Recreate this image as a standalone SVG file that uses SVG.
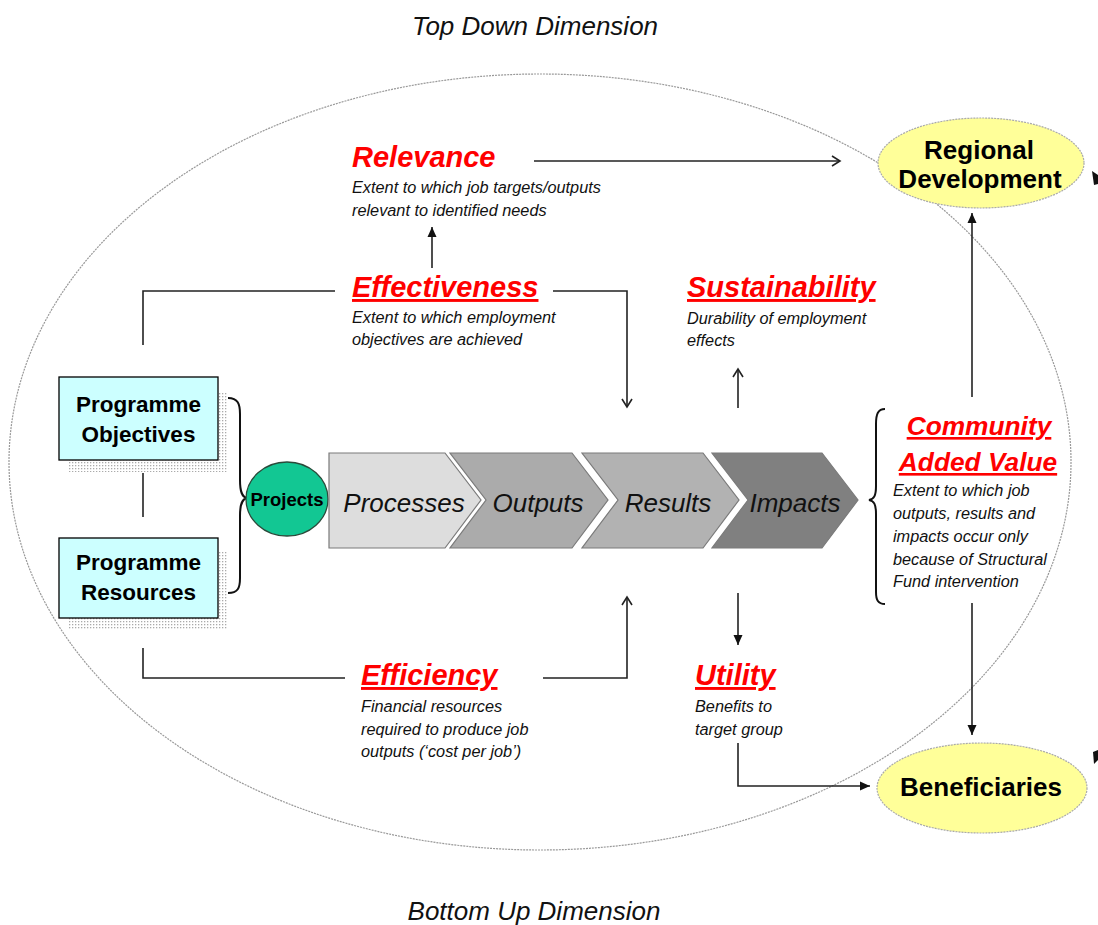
<svg xmlns="http://www.w3.org/2000/svg" width="1098" height="925" viewBox="0 0 1098 925">
<style>
.dim{font-family:"Liberation Sans",Arial,sans-serif;font-style:italic;font-size:26px;fill:#111;text-anchor:middle}
.head{font-family:"Liberation Sans",Arial,sans-serif;font-style:italic;font-weight:bold;font-size:29px;fill:#ff0000}
.cav{font-size:26.3px;text-anchor:middle}
.ul{text-decoration:underline}
.desc{font-family:"Liberation Sans",Arial,sans-serif;font-style:italic;font-size:16.3px;fill:#111}
.boxt{font-family:"Liberation Sans",Arial,sans-serif;font-weight:bold;font-size:22.5px;fill:#000;text-anchor:middle}
.ellt{font-family:"Liberation Sans",Arial,sans-serif;font-weight:bold;font-size:26px;fill:#000;text-anchor:middle}
.chev{stroke:#7a7a7a;stroke-width:1.2}
.chevt{font-family:"Liberation Sans",Arial,sans-serif;font-style:italic;font-size:26px;fill:#111;text-anchor:middle}
.box{fill:#ccffff;stroke:#000;stroke-width:1.3}
.yel{fill:#ffff99;stroke:#aaa;stroke-width:1.2;stroke-dasharray:2 1}
.ln{fill:none;stroke:#222;stroke-width:1.6}
.brace{fill:none;stroke:#111;stroke-width:2}
</style>
<defs>
<pattern id="dots" width="3" height="3" patternUnits="userSpaceOnUse">
<rect width="1.3" height="1.3" fill="#aaa"/>
</pattern>
<marker id="open" markerWidth="14" markerHeight="14" refX="10" refY="6" orient="auto" markerUnits="userSpaceOnUse">
<path d="M2,1 L10,6 L2,11" fill="none" stroke="#222" stroke-width="1.6"/>
</marker>
<marker id="fill" markerWidth="14" markerHeight="14" refX="11" refY="6" orient="auto" markerUnits="userSpaceOnUse">
<path d="M1,1.5 L11,6 L1,10.5 Z" fill="#111"/>
</marker>
</defs>
<rect width="1098" height="925" fill="#fff"/>

<g id="frame">
<ellipse cx="540" cy="462" rx="531" ry="388" fill="none" stroke="#999" stroke-width="1.2" stroke-dasharray="2 1"/>
<text class="dim" x="535" y="35">Top Down Dimension</text>
<text class="dim" x="534" y="920">Bottom Up Dimension</text>
</g>

<g id="connectors">
<path class="ln" d="M143,345 V291 H335"/>
<path class="ln" d="M553,291 H627 V407" marker-end="url(#open)"/>
<path class="ln" d="M143,648 V678 H345"/>
<path class="ln" d="M543,678 H627 V597" marker-end="url(#open)"/>
<path class="ln" d="M534,161 H840" marker-end="url(#open)"/>
<path class="ln" d="M432,268 V227" marker-end="url(#fill)"/>
<path class="ln" d="M738,408 V369" marker-end="url(#open)"/>
<path class="ln" d="M738,593 V645" marker-end="url(#fill)"/>
<path class="ln" d="M738,743 V786 H870" marker-end="url(#fill)"/>
<path class="ln" d="M972,397 V213" marker-end="url(#fill)"/>
<path class="ln" d="M972,603 V735" marker-end="url(#fill)"/>
<path class="ln" d="M143,473 V517"/>
<polygon points="1092,171 1098,175 1098,184 1094,185" fill="#111"/>
<polygon points="1093,752 1098,750 1098,760 1094,764" fill="#111"/>
</g>

<g id="programme-objectives">
<path d="M218,392 H227 V472 H68 V460 H218 Z" fill="url(#dots)"/>
<rect class="box" x="59" y="377" width="159" height="83"/>
<text class="boxt" x="138.5" y="412">Programme</text>
<text class="boxt" x="138.5" y="442">Objectives</text>
</g>

<g id="programme-resources">
<path d="M218,552 H227 V630 H68 V618 H218 Z" fill="url(#dots)"/>
<rect class="box" x="59" y="538" width="159" height="80"/>
<text class="boxt" x="138.5" y="570">Programme</text>
<text class="boxt" x="138.5" y="600">Resources</text>
</g>

<g id="left-brace">
<path class="brace" d="M228,398 C238,398 240,404 240,414 V480 C240,492 242,497 247,498 C242,499 240,504 240,516 V578 C240,588 238,593 228,593"/>
</g>

<g id="projects">
<ellipse cx="287" cy="499" rx="41" ry="37" fill="#12c793" stroke="#2a4a3a" stroke-width="1.3"/>
<text x="287" y="506" font-family="Liberation Sans,Arial,sans-serif" font-weight="bold" font-size="18.5" text-anchor="middle" fill="#000">Projects</text>
</g>

<g id="processes">
<polygon class="chev" points="329,453 445,453 481,500 445,548 329,548" fill="#dddddd"/>
<text class="chevt" x="404" y="512">Processes</text>
</g>
<g id="outputs">
<polygon class="chev" points="450,453 572,453 608,500 572,548 450,548 486,500" fill="#ababab"/>
<text class="chevt" x="538" y="512">Outputs</text>
</g>
<g id="results">
<polygon class="chev" points="582,453 703,453 739,500 703,548 582,548 618,500" fill="#b2b2b2"/>
<text class="chevt" x="668" y="512">Results</text>
</g>
<g id="impacts">
<polygon class="chev" points="712,453 822,453 858,500 822,548 712,548 748,500" fill="#808080"/>
<text class="chevt" x="795" y="512">Impacts</text>
</g>

<g id="relevance">
<text class="head" x="352" y="167">Relevance</text>
<text class="desc" x="352" y="193">Extent to which job targets/outputs</text>
<text class="desc" x="352" y="216">relevant to identified needs</text>
</g>

<g id="effectiveness">
<text class="head ul" x="352" y="297">Effectiveness</text>
<text class="desc" x="352" y="323">Extent to which employment</text>
<text class="desc" x="352" y="345">objectives are achieved</text>
</g>

<g id="sustainability">
<text class="head ul" x="687" y="297">Sustainability</text>
<text class="desc" x="687" y="324">Durability of employment</text>
<text class="desc" x="687" y="346">effects</text>
</g>

<g id="community-added-value">
<path class="brace" d="M885,409 C878,409 876,414 876,424 V486 C876,496 874,499 869,500 C874,501 876,504 876,514 V592 C876,600 878,604 885,604"/>
<text class="head ul cav" x="979" y="435">Community</text>
<text class="head ul cav" x="978" y="471">Added Value</text>
<text class="desc" x="893" y="496">Extent to which job</text>
<text class="desc" x="893" y="519">outputs, results and</text>
<text class="desc" x="893" y="542">impacts occur only</text>
<text class="desc" x="893" y="565">because of Structural</text>
<text class="desc" x="893" y="587">Fund intervention</text>
</g>

<g id="efficiency">
<text class="head ul" x="361" y="685">Efficiency</text>
<text class="desc" x="361" y="712">Financial resources</text>
<text class="desc" x="361" y="735">required to produce job</text>
<text class="desc" x="361" y="757">outputs (‘cost per job’)</text>
</g>

<g id="utility">
<text class="head ul" x="695" y="685">Utility</text>
<text class="desc" x="695" y="712">Benefits to</text>
<text class="desc" x="695" y="735">target group</text>
</g>

<g id="regional-development">
<ellipse class="yel" cx="981" cy="163" rx="103" ry="45"/>
<text class="ellt" x="979" y="159">Regional</text>
<text class="ellt" x="980" y="188">Development</text>
</g>

<g id="beneficiaries">
<ellipse class="yel" cx="982" cy="788" rx="105" ry="45"/>
<text class="ellt" x="981" y="796">Beneficiaries</text>
</g>
</svg>
